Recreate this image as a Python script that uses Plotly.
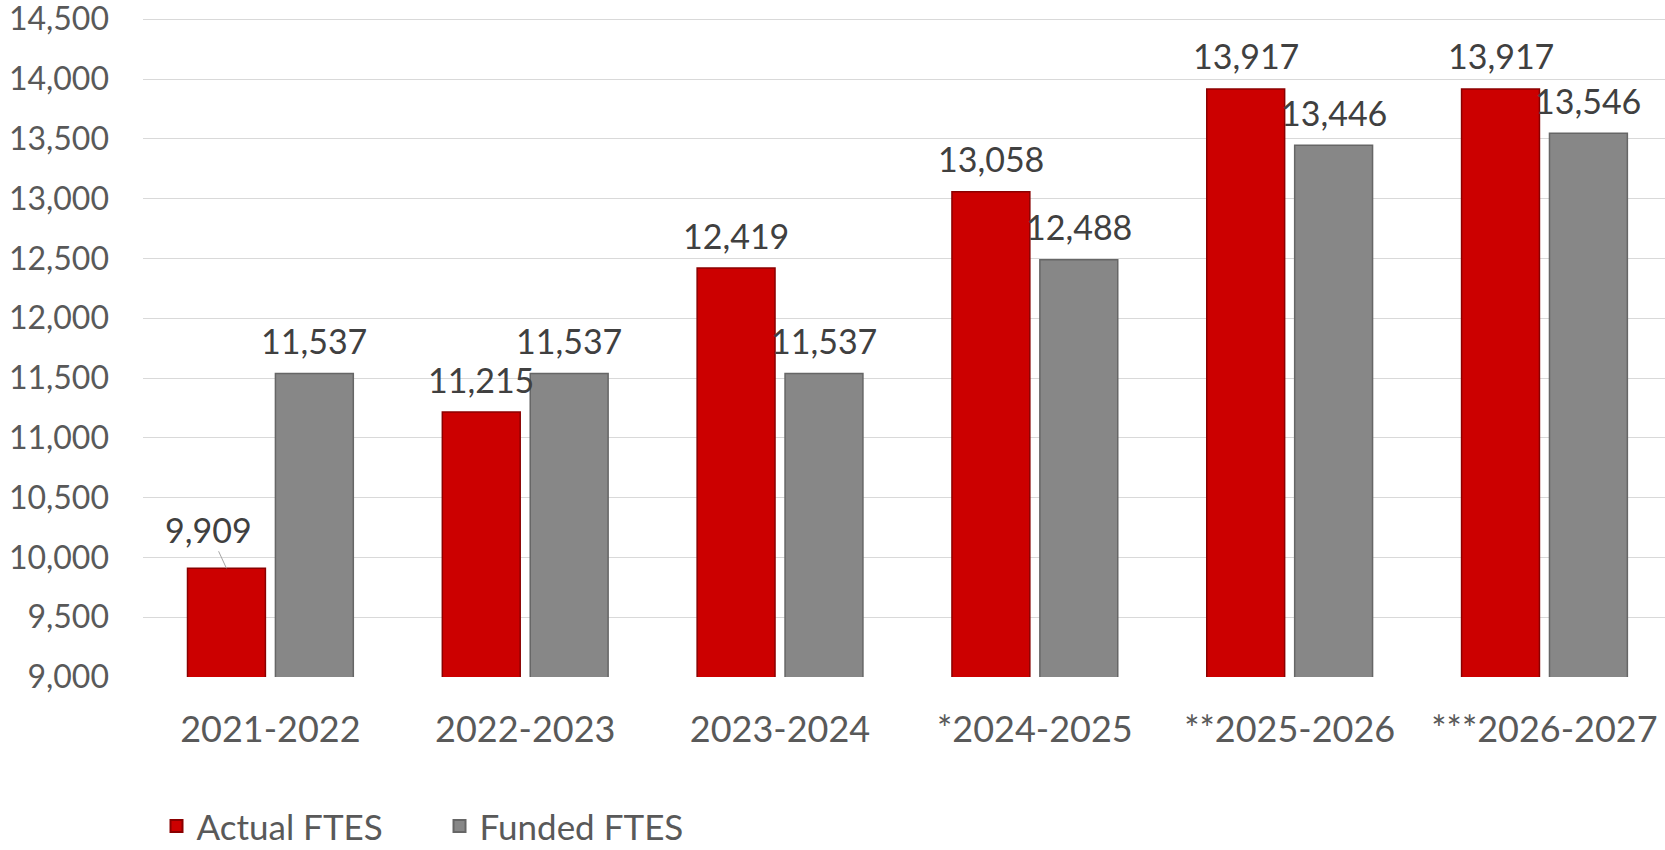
import plotly.graph_objects as go

years = ["2021-2022", "2022-2023", "2023-2024", "*2024-2025", "**2025-2026", "***2026-2027"]
actual_ftes = [9909, 11215, 12419, 13058, 13917, 13917]
funded_ftes = [11537, 11537, 11537, 12488, 13446, 13546]
y_ticks = list(range(9000, 15000, 500))

FONT = "Lato"
RED = "#cc0000"
GREY = "#878787"
BARGAP = 0.31

fig = go.Figure()
fig.add_trace(go.Bar(x=years, y=actual_ftes, name="Actual FTES",
                     marker=dict(color=RED, line=dict(color="#8a0000", width=1.5))))
fig.add_trace(go.Bar(x=years, y=funded_ftes, name="Funded FTES",
                     marker=dict(color=GREY, line=dict(color="#666666", width=1.5))))

# data labels above each bar (offset = half of one bar slot)
off = (1 - BARGAP) / 4
for i, (a, f) in enumerate(zip(actual_ftes, funded_ftes)):
    for xv, v in ((i - off, a), (i + off, f)):
        if v < 10000:
            # small value gets a leader line like the original
            fig.add_annotation(x=xv, y=v, text=f"{v:,}", showarrow=True,
                               arrowhead=0, arrowwidth=1, arrowcolor="#a6a6a6",
                               ax=-18, ay=-39, standoff=0,
                               font=dict(family=FONT, size=34, color="#404040"))
        else:
            fig.add_annotation(x=xv, y=v, text=f"{v:,}", showarrow=False,
                               yshift=33, yanchor="middle",
                               font=dict(family=FONT, size=34, color="#404040"))

fig.update_layout(
    width=1665, height=850,
    margin=dict(l=143, r=0, t=18, b=173),
    plot_bgcolor="white", paper_bgcolor="white",
    barmode="group", bargap=BARGAP, bargroupgap=0.114,
    font=dict(family=FONT, color="#595959"),
    showlegend=True,
    legend=dict(orientation="h", xref="container", yref="container",
                x=0.094, y=0.028, xanchor="left", yanchor="middle",
                font=dict(family=FONT, size=35, color="#595959"),
                entrywidth=238, itemsizing="constant"),
)
fig.update_xaxes(type="category", range=[-0.5, 5.473], showgrid=False,
                 tickfont=dict(family=FONT, size=36, color="#595959"),
                 ticklabelstandoff=28, showline=False, automargin=False)
fig.update_yaxes(range=[9000, 14510], tickvals=y_ticks,
                 ticktext=[f"{t:,}" for t in y_ticks],
                 showgrid=True, gridcolor="#d9d9d9", gridwidth=1,
                 zeroline=False, showline=False, automargin=False,
                 tickfont=dict(family=FONT, size=32, color="#595959"),
                 ticklabelstandoff=33, ticklabeloverflow="allow")

# drop the browser's default 8px body margin so the figure fills the window
fig.write_html("out.html", config={"displayModeBar": False},
               post_script="document.body.style.margin='0';")
